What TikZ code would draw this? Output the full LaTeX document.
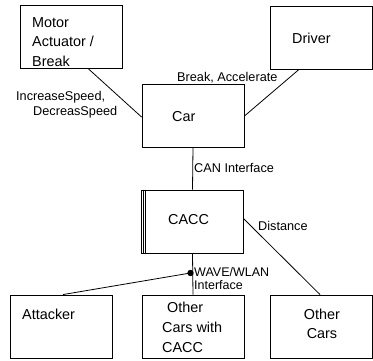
\documentclass[tikz,border=0pt]{standalone}
\usepackage{fontspec}
\setmainfont{Liberation Sans}
\begin{document}
\begin{tikzpicture}[x=1pt,y=-1pt,
  box/.style={draw, line width=0.9pt, inner sep=0, minimum width=102pt, minimum height=63pt},
  lbl/.style={font=\fontsize{12.7}{15}\selectfont, inner sep=0, anchor=west, align=left},
  btxt/.style={font=\fontsize{14.4}{19.5}\selectfont, inner sep=0, anchor=west, align=left},
  wire/.style={line width=0.8pt}]
\useasboundingbox (0,0) rectangle (373,360);
% boxes
\node[box] (motor)    at (71.5,36.5) {};
\node[box] (driver)   at (321.5,37.5) {};
\node[box] (car)      at (193,115.5) {};
\node[box] (cacc)     at (192.5,221.5) {};
\node[box] (attacker) at (61,326.5) {};
\node[box] (ocacc)    at (193,326.5) {};
\node[box] (ocars)    at (321.5,326.5) {};
% extra left lines of CACC
\draw[wire] ([xshift=2pt]cacc.north west) -- ([xshift=2pt]cacc.south west);
\draw[wire] ([xshift=4pt]cacc.north west) -- ([xshift=4pt]cacc.south west);
% box texts
\node[btxt] (tmotor) at (32,42) {Motor\\Actuator /\\Break};
\node[btxt] (tdriver) at (292,38) {Driver};
\node[btxt] (tcar) at (172,117) {Car};
\node[btxt] (tcacc) at (168,220) {CACC};
\node[btxt] (tatt) at (22,314) {Attacker};
\node[btxt, font=\fontsize{14.4}{20}\selectfont] (tocacc) at (162,327) {\hspace*{5pt}Other\\Cars with\\CACC};
\node[btxt, align=center, anchor=center] (tocars) at (322,324) {Other\\Cars};
% labels
\node[lbl] (lbrk) at (177,78) {Break, Accelerate};
\node[lbl] (linc) at (16,105) {IncreaseSpeed,\\\hspace*{17pt}DecreasSpeed};
\node[lbl] (lcan) at (194,168) {CAN Interface};
\node[lbl] (ldist) at (258,226) {Distance};
\node[lbl, font=\fontsize{12.5}{13.5}\selectfont] (lwave) at (194,278.5) {WAVE/WLAN\\Interface};
% connectors
\draw[wire] (motor.south -| 88,0) -- (car.west |- 0,117);
\draw[wire] (driver.south -| 299,0) -- (car.east |- 0,116);
\draw[wire] (car.south) -- (cacc.north);
\draw[wire] (cacc.south) -- (ocacc.north);
\coordinate (j) at (cacc.south |- 0,273);
\fill ([xshift=-2pt]j) circle (3.2pt);
\draw[wire] ([xshift=-2pt]j) -- (attacker.north -| 63,0);
\draw[wire] (cacc.east |- 0,219) -- (ocars.north -| 320,0);
\end{tikzpicture}
\end{document}
